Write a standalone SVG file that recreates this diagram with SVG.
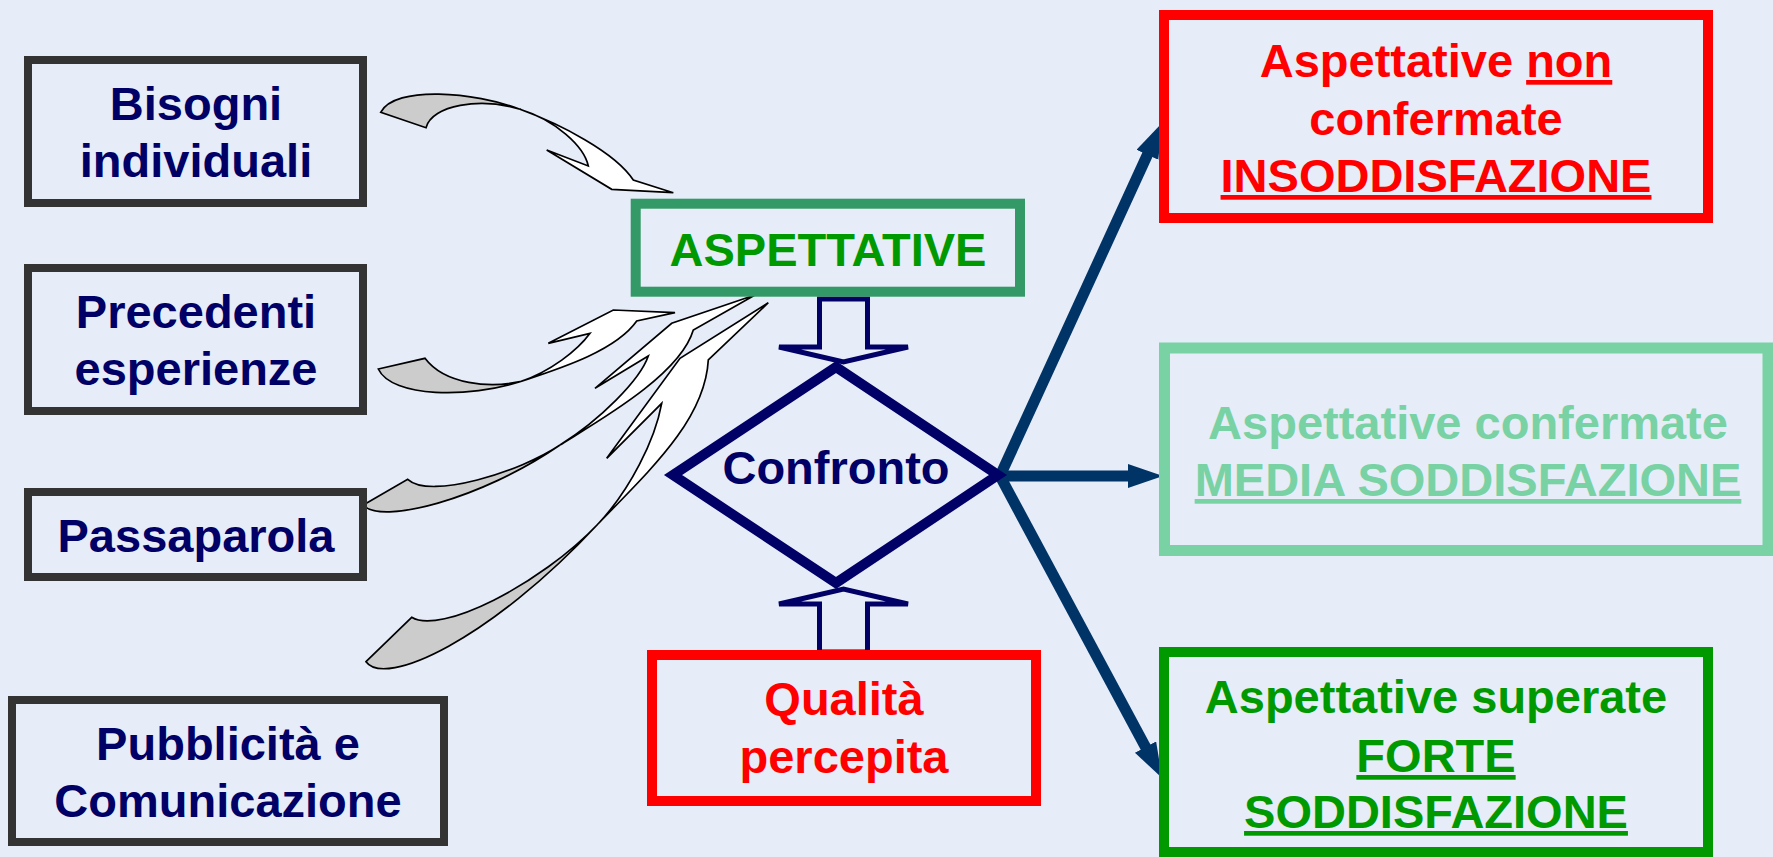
<svg xmlns="http://www.w3.org/2000/svg" width="1773" height="857" viewBox="0 0 1773 857">
<style>
text{font-family:"Liberation Sans",Arial,sans-serif;font-weight:bold;font-size:47px;text-anchor:middle}
.src rect{fill:none;stroke:#333333;stroke-width:8}
.src text{fill:#000066}
.curve .g{fill:#CCCCCC;stroke:#000;stroke-width:1.7;stroke-linejoin:miter}
.curve .w{fill:#FFFFFF;stroke:#000;stroke-width:1.7;stroke-linejoin:miter}
.blk{fill:#E6ECF8;stroke:#000066;stroke-width:5}
.out{stroke:#003366;stroke-width:11;fill:none}
.u{text-decoration:underline}
</style>
<defs>
<marker id="ah" markerUnits="userSpaceOnUse" markerWidth="36" markerHeight="26" refX="12" refY="12" orient="auto">
<path d="M0,0 L35,12 L0,24 Z" fill="#003366"/>
</marker>
</defs>
<rect width="1773" height="857" fill="#E6ECF8"/>

<g id="connectors">
<g class="curve">
<path class="g" d="M380.7,112.3 C395,85 475,92 520,109.3 C480,97 432,105 426,127.7 Z"/>
<path class="w" d="M520,109.3 C560,124 615,152 633.3,180 L673.3,192.7 L611.7,189.3 L546.7,150 L588.3,166 C584,146 555,120 520,109.3 Z"/>
<path class="g" d="M378.3,369 C392,398 470,398 520,381.7 C490,388 445,385 425,358.3 Z"/>
<path class="w" d="M520,381.7 C555,370 615,352 636.7,321 L675,312.7 L613.3,310 L548.3,343.3 L590,333.3 C578,350 550,372 520,381.7 Z"/>
<path class="g" d="M363.3,505 C380,525 480,500 560,445 C520,472 430,500 407.7,479.3 Z"/>
<path class="w" d="M560,445 C600,420 680,375 693.3,330 L755,295 L671.7,323.3 L595,388.3 L648.3,356 C640,380 600,420 560,445 Z"/>
<path class="g" d="M366,661.7 C385,688 490,640 598,524 C540,585 440,635 411.7,617.3 Z"/>
<path class="w" d="M598,524 C650,470 705,420 708.3,360 L768.3,302.7 L680,358.3 L606.7,458.3 L661.7,403.3 C655,440 630,490 598,524 Z"/>
</g>
<polygon class="blk" points="819.5,299 867.5,299 867.5,347 908,347 843.5,362 779,347 819.5,347"/>
<polygon class="blk" points="819.5,652 867.5,652 867.5,604 908,604 843.5,589 779,604 819.5,604"/>
<line class="out" x1="1000" y1="476" x2="1152.4" y2="143.9" marker-end="url(#ah)"/>
<line class="out" x1="1000" y1="476" x2="1140" y2="476" marker-end="url(#ah)"/>
<line class="out" x1="1000" y1="476" x2="1151.2" y2="757.7" marker-end="url(#ah)"/>
</g>

<g id="bisogni" class="src">
<rect x="28" y="60" width="335" height="143"/>
<text x="196" y="120">Bisogni</text>
<text x="196" y="177">individuali</text>
</g>
<g id="precedenti" class="src">
<rect x="28" y="268" width="335" height="143"/>
<text x="196" y="328">Precedenti</text>
<text x="196" y="385">esperienze</text>
</g>
<g id="passaparola" class="src">
<rect x="28" y="492" width="335" height="85"/>
<text x="196" y="552">Passaparola</text>
</g>
<g id="pubblicita" class="src">
<rect x="12" y="700" width="432" height="142"/>
<text x="228" y="760">Pubblicità e</text>
<text x="228" y="817">Comunicazione</text>
</g>

<g id="aspettative">
<rect x="635.7" y="203.7" width="384.3" height="88" fill="none" stroke="#339966" stroke-width="10"/>
<text x="828" y="266" fill="#009900">ASPETTATIVE</text>
</g>

<g id="confronto">
<polygon points="836,367 998,475 836,583 673,475" fill="none" stroke="#000066" stroke-width="10"/>
<text x="836" y="484" fill="#000066">Confronto</text>
</g>

<g id="qualita">
<rect x="652" y="655" width="384" height="146" fill="none" stroke="#FF0000" stroke-width="10"/>
<text x="844" y="715" fill="#FF0000">Qualità</text>
<text x="844" y="773" fill="#FF0000">percepita</text>
</g>

<g id="insoddisfazione">
<rect x="1164" y="15" width="544" height="203" fill="none" stroke="#FF0000" stroke-width="10"/>
<text x="1436" y="77" fill="#FF0000">Aspettative <tspan class="u">non</tspan></text>
<text x="1436" y="135" fill="#FF0000">confermate</text>
<text x="1436" y="192" fill="#FF0000" class="u">INSODDISFAZIONE</text>
</g>

<g id="media">
<rect x="1164.5" y="348" width="603.5" height="202.5" fill="none" stroke="#78D2A3" stroke-width="11"/>
<text x="1468" y="439" fill="#78D2A3">Aspettative confermate</text>
<text x="1468" y="496" fill="#78D2A3" class="u">MEDIA SODDISFAZIONE</text>
</g>

<g id="forte">
<rect x="1164" y="652" width="544" height="200" fill="none" stroke="#009900" stroke-width="10"/>
<text x="1436" y="713" fill="#009900">Aspettative superate</text>
<text x="1436" y="772" fill="#009900" class="u">FORTE</text>
<text x="1436" y="828" fill="#009900" class="u">SODDISFAZIONE</text>
</g>
</svg>
